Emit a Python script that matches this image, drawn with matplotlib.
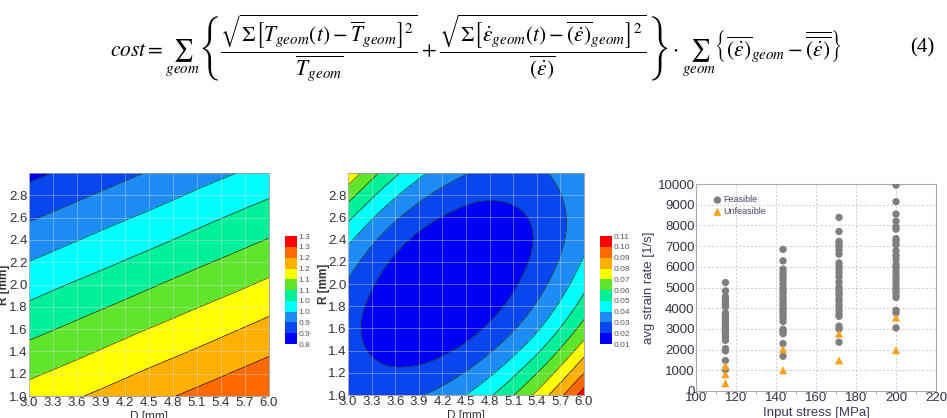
import numpy as np
import matplotlib
matplotlib.use('Agg')
import matplotlib.pyplot as plt
import matplotlib.tri as mtri
from matplotlib.colors import ListedColormap, BoundaryNorm

plt.rcParams['font.family'] = ['Liberation Sans', 'DejaVu Sans']
plt.rcParams['mathtext.fontset'] = 'stix'

# --- contour maps: values read on a coarse D/R grid ---
d_vals = [3.0, 3.5, 4.0, 4.5, 5.0, 5.5, 6.0]
r_vals = [1.0, 1.5, 2.0, 2.5, 3.0]

# left map (roughly planar)
cost_left = [
    [1.120, 1.142, 1.163, 1.185, 1.207, 1.228, 1.248],
    [1.050, 1.071, 1.093, 1.115, 1.136, 1.158, 1.180],
    [0.979, 1.001, 1.022, 1.044, 1.066, 1.087, 1.109],
    [0.909, 0.930, 0.952, 0.973, 0.995, 1.017, 1.038],
    [0.838, 0.860, 0.881, 0.903, 0.925, 0.946, 0.968],
]
# middle map (elliptic bowl)
cost_mid = [
    [0.0295, 0.0270, 0.0305, 0.0400, 0.0556, 0.0773, 0.1049],
    [0.0231, 0.0158, 0.0145, 0.0193, 0.0301, 0.0469, 0.0698],
    [0.0289, 0.0168, 0.0108, 0.0108, 0.0168, 0.0289, 0.0470],
    [0.0469, 0.0301, 0.0193, 0.0145, 0.0158, 0.0231, 0.0364],
    [0.0773, 0.0556, 0.0400, 0.0305, 0.0270, 0.0295, 0.0381],
]
levels_left = [0.80, 0.85, 0.90, 0.95, 1.00, 1.05, 1.10, 1.15, 1.20, 1.25, 1.30]
labels_left = ['0.8', '0.9', '0.9', '1.0', '1.0', '1.1', '1.1', '1.2', '1.2', '1.3', '1.3']
levels_mid = [0.01, 0.02, 0.03, 0.04, 0.05, 0.06, 0.07, 0.08, 0.09, 0.10, 0.11]
labels_mid = ['0.01', '0.02', '0.03', '0.04', '0.05', '0.06', '0.07', '0.08', '0.09', '0.10', '0.11']

d_ticks = [3.0, 3.3, 3.6, 3.9, 4.2, 4.5, 4.8, 5.1, 5.4, 5.7, 6.0]
r_ticks = [1.0, 1.2, 1.4, 1.6, 1.8, 2.0, 2.2, 2.4, 2.6, 2.8]

band_colors = ['#0000f5', '#0a46ee', '#1e8cf5', '#00ffff', '#00f09a',
               '#5fe62c', '#ffff00', '#ffb000', '#ff6a00', '#ff0000']

# --- scatter: avg strain rate vs input stress ---
stress_groups = [114.7, 143.5, 171.5, 200.0]
feasible = [
    [5240, 4840, 4550, 4420, 4310, 4190, 4070, 3770, 3680, 3580, 3480, 3390,
     3290, 3160, 3070, 2940, 2820, 2710, 2580, 2450, 2050, 1940, 1470, 1030],
    [6840, 6290, 5890, 5740, 5610, 5480, 5320, 5160, 4980, 4840, 4710, 4550,
     4420, 4290, 4160, 4030, 3900, 3770, 3650, 3520, 3360, 2980, 2860, 2770,
     2290, 1680],
    [8390, 7710, 7230, 7100, 6970, 6810, 6610, 6190, 6030, 5900, 5710, 5520,
     5260, 5030, 4900, 4770, 4650, 4480, 4360, 4190, 4070, 3900, 3740, 3610,
     3130, 3000, 2360],
    [9950, 9150, 8550, 8210, 7940, 7820, 7360, 7230, 7070, 6770, 6550, 6360,
     6100, 5970, 5770, 5580, 5420, 5260, 5100, 4940, 4810, 4650, 4520, 3900,
     3770, 3050],
]
unfeasible = [
    [1210, 810, 370],
    [2020, 1000],
    [2770, 1480],
    [3550, 1970],
]

fig = plt.figure(figsize=(9.47, 4.18), dpi=100)

eq = (r'$cost=\sum_{geom}\left\{\dfrac{\sqrt{\Sigma\left[T_{geom}(t)-\overline{T}_{geom}\right]^2}}'
      r'{\overline{T_{geom}}}+\dfrac{\sqrt{\Sigma\left[\dot{\epsilon}_{geom}(t)-'
      r'\overline{(\dot{\epsilon})}_{geom}\right]^2}}{\overline{(\dot{\epsilon})}}\right\}'
      r'\cdot\sum_{geom}\left\{\overline{(\dot{\epsilon})}_{geom}-'
      r'\overline{\overline{(\dot{\epsilon})}}\right\}$')
fig.text(0.116, 0.885, eq, fontsize=15.5, ha='left', va='center')
fig.text(0.987, 0.885, '(4)', fontsize=15, ha='right', va='center',
         family='Liberation Serif')

cmap = ListedColormap(band_colors)


def contour_panel(ax_rect, cb_rect, field, levels, cb_labels):
    ax = fig.add_axes(ax_rect)
    dd, rr = np.meshgrid(d_vals, r_vals)
    tri = mtri.Triangulation(dd.ravel(), rr.ravel())
    z = np.array(field).ravel()
    refiner = mtri.UniformTriRefiner(tri)
    interp = mtri.CubicTriInterpolator(tri, z)
    tri_f, z_f = refiner.refine_field(z, triinterpolator=interp, subdiv=4)
    norm = BoundaryNorm(levels, cmap.N)
    cs = ax.tricontourf(tri_f, z_f, levels=levels, cmap=cmap, norm=norm)
    ax.tricontour(tri_f, z_f, levels=levels, colors='#1a1a1a', linewidths=0.45)
    ax.set_xlim(3.0, 6.0)
    ax.set_ylim(1.0, 3.0)
    ax.set_xticks(d_ticks)
    ax.set_xticklabels(['%.1f' % v for v in d_ticks])
    ax.set_yticks(r_ticks)
    ax.set_yticklabels(['%.1f' % v for v in r_ticks])
    ax.tick_params(length=0, labelsize=9.5, colors='#333333', pad=1)
    ax.grid(True, color='#dddddd', alpha=0.45, linewidth=0.6)
    ax.set_axisbelow(False)
    for sp in ax.spines.values():
        sp.set_color('#999999')
        sp.set_linewidth(0.6)
    ax.set_xlabel('D [mm]', fontsize=8.5, color='#333333', labelpad=1)
    ax.set_ylabel('R [mm]', fontsize=8.5, color='#333333', labelpad=-1,
                  fontweight='bold')

    cax = fig.add_axes(cb_rect)
    cb = fig.colorbar(cs, cax=cax, ticks=levels)
    cb.ax.set_yticklabels(cb_labels)
    cb.ax.tick_params(length=0, labelsize=6, colors='#555555', pad=1)
    cb.outline.set_visible(False)
    return ax


contour_panel([0.0306, 0.0526, 0.2534, 0.5335], [0.301, 0.177, 0.0127, 0.258],
              cost_left, levels_left, labels_left)
contour_panel([0.3675, 0.055, 0.2492, 0.531], [0.6336, 0.177, 0.0127, 0.258],
              cost_mid, levels_mid, labels_mid)

ax3 = fig.add_axes([0.735, 0.0646, 0.2534, 0.495])
for i, x in enumerate(stress_groups):
    ax3.scatter([x] * len(feasible[i]), feasible[i], s=28, color='#7f7f7f',
                edgecolors='none', zorder=3, label='Feasible' if i == 0 else None)
for i, x in enumerate(stress_groups):
    ax3.scatter([x] * len(unfeasible[i]), unfeasible[i], s=34, marker='^',
                color='#f5a01e', edgecolors='none', zorder=4,
                label='Unfeasible' if i == 0 else None)
ax3.set_xlim(100, 220)
ax3.set_ylim(0, 10000)
ax3.set_xticks([100, 120, 140, 160, 180, 200, 220])
ax3.set_yticks(range(0, 10001, 1000))
ax3.set_xticks(range(100, 221, 5), minor=True)
ax3.tick_params(axis='both', which='major', length=0, labelsize=9.5,
                colors='#333344', pad=1)
ax3.tick_params(axis='x', which='minor', length=2, color='#999999')
ax3.grid(True, which='major', linestyle=(0, (2, 2)), color='#cccccc', linewidth=0.7)
for sp in ax3.spines.values():
    sp.set_color('#aaaaaa')
    sp.set_linewidth(0.8)
ax3.set_xlabel('Input stress [MPa]', fontsize=9.5, color='#3a3a5a', labelpad=2)
ax3.set_ylabel('avg strain rate [1/s]', fontsize=9.5, color='#3a3a5a', labelpad=2)
leg = ax3.legend(loc='upper left', frameon=False, fontsize=6.5, handletextpad=0.1,
                 borderaxespad=0.4, labelspacing=0.3, handlelength=1.0,
                 bbox_to_anchor=(0.04, 0.98))
for t in leg.get_texts():
    t.set_color('#444466')

fig.savefig('out.png', dpi=100)
